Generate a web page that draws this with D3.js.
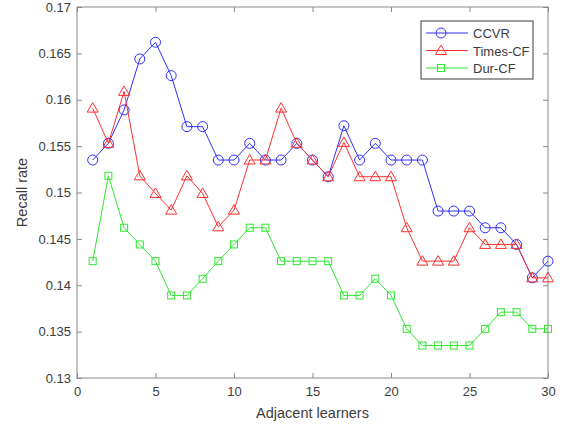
<!DOCTYPE html>
<html lang="en">
<head>
<meta charset="UTF-8">
<title>Recall rate</title>
<script src="https://d3js.org/d3.v7.min.js"></script>
<style>
  body { margin: 0; background: #fff; }
  svg text { font-family: "Liberation Sans", Arial, sans-serif; fill: #3c3c3c; }
</style>
</head>
<body>
<div id="chart"></div>
<script>
// data
var learners = d3.range(1, 31);
var ccvr = [0.1535, 0.1553, 0.1589, 0.1644, 0.1662, 0.1626, 0.1571, 0.1571, 0.1535, 0.1535,
            0.1553, 0.1535, 0.1535, 0.1553, 0.1535, 0.1517, 0.1572, 0.1535, 0.1553, 0.1535,
            0.1535, 0.1535, 0.1480, 0.1480, 0.1480, 0.1462, 0.1462, 0.1444, 0.1408, 0.1426];
var timesCF = [0.1591, 0.1553, 0.1609, 0.1518, 0.1499, 0.1481, 0.1518, 0.1499, 0.1463, 0.1481,
               0.1535, 0.1535, 0.1591, 0.1553, 0.1535, 0.1517, 0.1554, 0.1517, 0.1517, 0.1517,
               0.1462, 0.1426, 0.1426, 0.1426, 0.1462, 0.1444, 0.1444, 0.1444, 0.1408, 0.1408];
var durCF = [0.1426, 0.1518, 0.1462, 0.1444, 0.1426, 0.1389, 0.1389, 0.1407, 0.1426, 0.1444,
             0.1462, 0.1462, 0.1426, 0.1426, 0.1426, 0.1426, 0.1389, 0.1389, 0.1407, 0.1389,
             0.1353, 0.1335, 0.1335, 0.1335, 0.1335, 0.1353, 0.1371, 0.1371, 0.1353, 0.1353];
var seriesNames = ["CCVR", "Times-CF", "Dur-CF"];
var xTicks = [0, 5, 10, 15, 20, 25, 30];
var yTicks = [0.13, 0.135, 0.14, 0.145, 0.15, 0.155, 0.16, 0.165, 0.17];

var W = 567, H = 428;
var margin = {top: 7, right: 19, bottom: 50, left: 77};
var width = W - margin.left - margin.right,
    height = H - margin.top - margin.bottom;

var svg = d3.select("#chart").append("svg")
    .attr("width", W).attr("height", H);
var g = svg.append("g")
    .attr("transform", "translate(" + margin.left + "," + margin.top + ")");

var x = d3.scaleLinear().domain([0, 30]).range([0, width]);
var y = d3.scaleLinear().domain([0.13, 0.17]).range([height, 0]);

// axes, box with inward ticks on all four sides
var axisColor = "#8a8a8a";
function styleAxis(sel) {
  sel.select(".domain").remove();
  sel.selectAll(".tick line").attr("stroke", axisColor);
  sel.selectAll(".tick text").style("font-size", "13px");
}
g.append("g").attr("transform", "translate(0," + height + ")")
  .call(d3.axisBottom(x).tickValues(xTicks).tickSizeInner(-5).tickSizeOuter(0).tickPadding(9))
  .call(styleAxis);
g.append("g")
  .call(d3.axisTop(x).tickValues(xTicks).tickSizeInner(-5).tickSizeOuter(0).tickFormat(""))
  .call(styleAxis);
g.append("g")
  .call(d3.axisLeft(y).tickValues(yTicks).tickSizeInner(-5).tickSizeOuter(0).tickPadding(6)
        .tickFormat(d3.format("")))
  .call(styleAxis);
g.append("g").attr("transform", "translate(" + width + ",0)")
  .call(d3.axisRight(y).tickValues(yTicks).tickSizeInner(-5).tickSizeOuter(0).tickFormat(""))
  .call(styleAxis);
g.append("rect")
  .attr("width", width).attr("height", height)
  .attr("fill", "none").attr("stroke", axisColor).attr("stroke-width", 1);

// axis labels
svg.append("text")
  .attr("x", margin.left + width / 2).attr("y", 418)
  .attr("text-anchor", "middle").style("font-size", "14.5px")
  .text("Adjacent learners");
svg.append("text")
  .attr("transform", "translate(27," + (margin.top + height / 2) + ") rotate(-90)")
  .attr("text-anchor", "middle").style("font-size", "14.5px")
  .text("Recall rate");

// markers
function drawMarker(sel, type, color) {
  if (type === "circle") {
    sel.append("circle").attr("r", 5);
  } else if (type === "triangle") {
    sel.append("path").attr("d", "M0,-5.5L5.5,4L-5.5,4Z");
  } else {
    sel.append("rect").attr("x", -3.5).attr("y", -3.5).attr("width", 7).attr("height", 7);
  }
  sel.selectAll("*").attr("fill", "none").attr("stroke", color).attr("stroke-width", 1);
}

var series = [
  {name: seriesNames[0], values: ccvr, color: "#2f2fff", marker: "circle"},
  {name: seriesNames[1], values: timesCF, color: "#ff2f2f", marker: "triangle"},
  {name: seriesNames[2], values: durCF, color: "#2fe82f", marker: "square"}
];

var line = d3.line()
  .x(function(d, i) { return x(learners[i]); })
  .y(function(d) { return y(d); });

series.forEach(function(s) {
  g.append("path")
    .datum(s.values)
    .attr("d", line)
    .attr("fill", "none")
    .attr("stroke", s.color)
    .attr("stroke-width", 1);
  g.selectAll(null)
    .data(s.values)
    .enter().append("g")
    .attr("transform", function(d, i) { return "translate(" + x(learners[i]) + "," + y(d) + ")"; })
    .each(function() { drawMarker(d3.select(this), s.marker, s.color); });
});

// legend
var legend = svg.append("g").attr("transform", "translate(421,21)");
legend.append("rect")
  .attr("width", 112).attr("height", 58)
  .attr("fill", "#fff").attr("stroke", "#3c3c3c").attr("stroke-width", 1);
series.forEach(function(s, i) {
  var row = legend.append("g").attr("transform", "translate(0," + (12 + i * 17.5) + ")");
  row.append("line")
    .attr("x1", 5).attr("x2", 47)
    .attr("stroke", s.color).attr("stroke-width", 1);
  row.append("g").attr("transform", "translate(20,0)")
    .each(function() { drawMarker(d3.select(this), s.marker, s.color); });
  row.append("text")
    .attr("x", 52).attr("y", 5)
    .style("font-size", "13px")
    .text(s.name);
});
</script>
</body>
</html>
